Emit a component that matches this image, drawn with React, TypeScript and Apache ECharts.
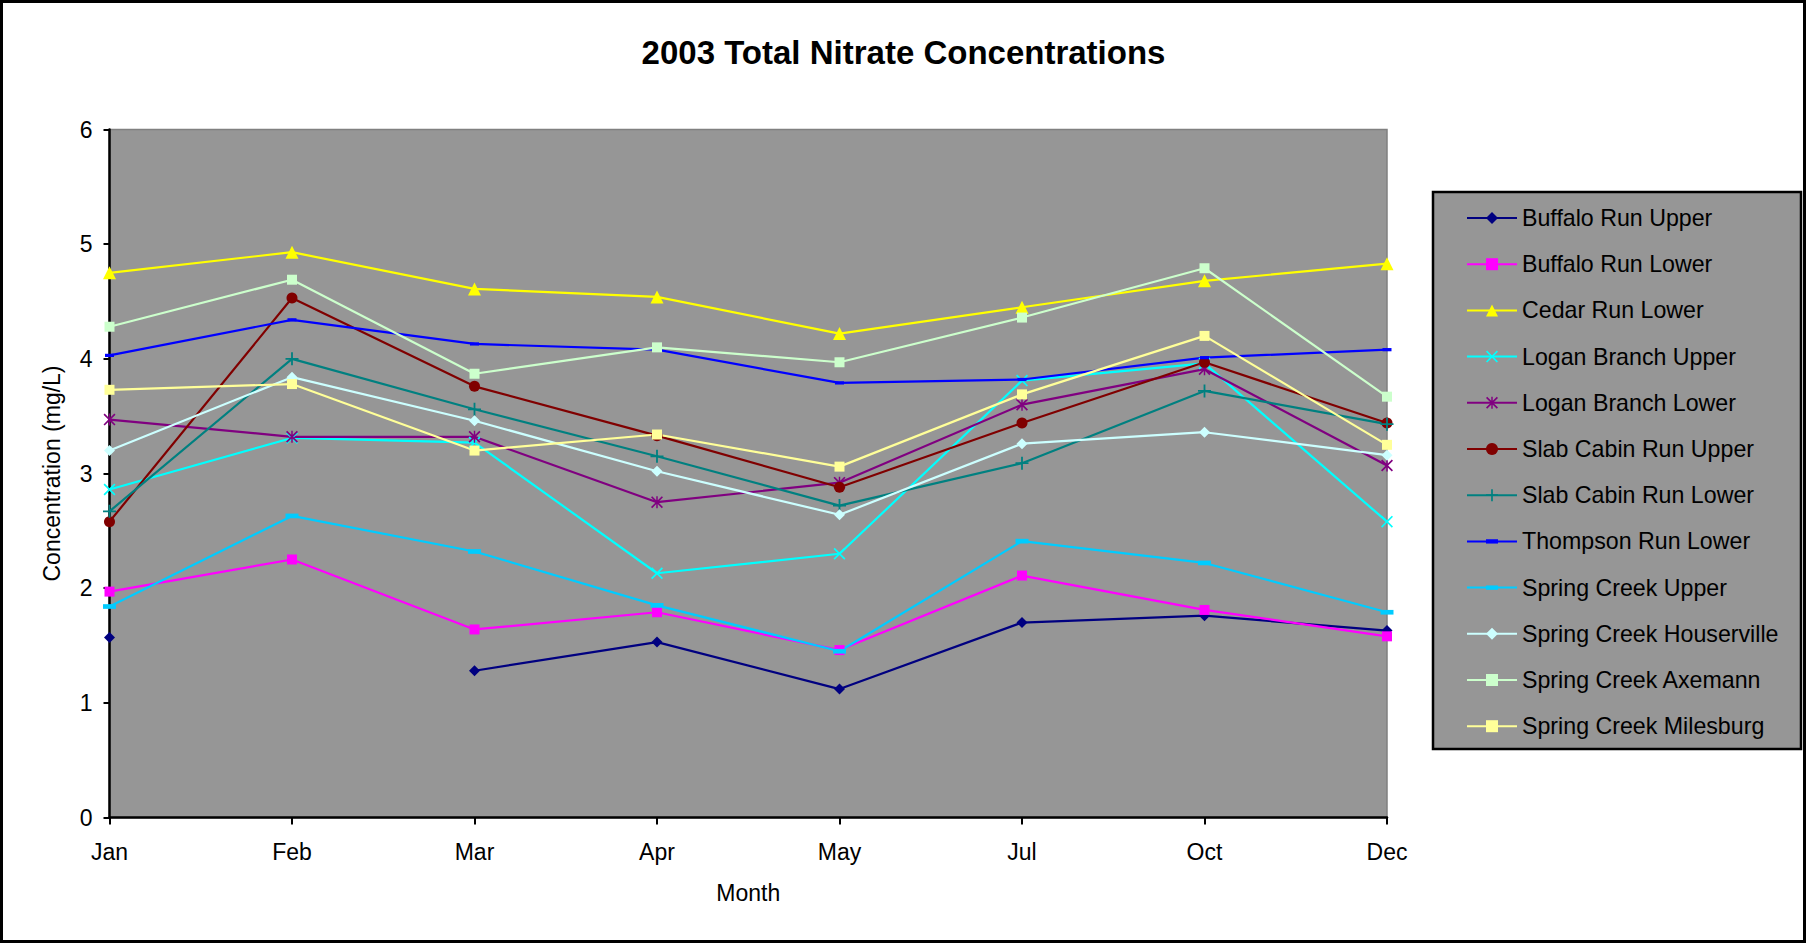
import React, { useEffect, useRef } from 'react';
import * as echarts from 'echarts';

const months = ['Jan', 'Feb', 'Mar', 'Apr', 'May', 'Jul', 'Oct', 'Dec'];

const seriesNames = [
  'Buffalo Run Upper',
  'Buffalo Run Lower',
  'Cedar Run Lower',
  'Logan Branch Upper',
  'Logan Branch Lower',
  'Slab Cabin Run Upper',
  'Slab Cabin Run Lower',
  'Thompson Run Lower',
  'Spring Creek Upper',
  'Spring Creek Houserville',
  'Spring Creek Axemann',
  'Spring Creek Milesburg',
];

const buffaloRunUpper = [1.57, null, 1.28, 1.53, 1.12, 1.7, 1.76, 1.63];
const buffaloRunLower = [1.97, 2.25, 1.64, 1.79, 1.46, 2.11, 1.81, 1.58];
const cedarRunLower = [4.75, 4.93, 4.61, 4.54, 4.22, 4.45, 4.68, 4.83];
const loganBranchUpper = [2.86, 3.31, 3.27, 2.13, 2.3, 3.81, 3.96, 2.58];
const loganBranchLower = [3.47, 3.32, 3.32, 2.75, 2.92, 3.6, 3.91, 3.07];
const slabCabinRunUpper = [2.58, 4.53, 3.76, 3.33, 2.88, 3.44, 3.97, 3.44];
const slabCabinRunLower = [2.67, 4.0, 3.56, 3.15, 2.72, 3.09, 3.72, 3.43];
const thompsonRunLower = [4.03, 4.34, 4.13, 4.08, 3.79, 3.82, 4.01, 4.08];
const springCreekUpper = [1.84, 2.63, 2.32, 1.85, 1.45, 2.41, 2.22, 1.79];
const springCreekHouserville = [3.2, 3.84, 3.46, 3.02, 2.64, 3.26, 3.36, 3.16];
const springCreekAxemann = [4.28, 4.69, 3.87, 4.1, 3.97, 4.36, 4.79, 3.67];
const springCreekMilesburg = [3.73, 3.78, 3.2, 3.34, 3.06, 3.69, 4.2, 3.25];

const seriesValues = [
  buffaloRunUpper,
  buffaloRunLower,
  cedarRunLower,
  loganBranchUpper,
  loganBranchLower,
  slabCabinRunUpper,
  slabCabinRunLower,
  thompsonRunLower,
  springCreekUpper,
  springCreekHouserville,
  springCreekAxemann,
  springCreekMilesburg,
];

const X_PATH = 'M0,1L1,0L5,4L9,0L10,1L6,5L10,9L9,10L5,6L1,10L0,9L4,5Z';
const SYM_X = 'path://' + X_PATH;
const SYM_STAR = 'path://' + X_PATH + 'M4.4,0L5.6,0L5.6,10L4.4,10Z';
const SYM_PLUS =
  'path://M4.3,0L5.7,0L5.7,4.3L10,4.3L10,5.7L5.7,5.7L5.7,10L4.3,10L4.3,5.7L0,5.7L0,4.3L4.3,4.3Z';
const SYM_DASH = 'path://M0,0M10,10M0,3.2L10,3.2L10,6.8L0,6.8Z';

const seriesColors = [
  '#000080',
  '#FF00FF',
  '#FFFF00',
  '#00FFFF',
  '#800080',
  '#800000',
  '#008080',
  '#0000FF',
  '#00CCFF',
  '#CCFFFF',
  '#CCFFCC',
  '#FFFF99',
];
const seriesSymbols = [
  'diamond',
  'rect',
  'triangle',
  SYM_X,
  SYM_STAR,
  'circle',
  SYM_PLUS,
  SYM_DASH,
  SYM_DASH,
  'diamond',
  'rect',
  'rect',
];
const seriesSymbolSizes = [11, 10, 13, 12, 12, 11, 13, 9, 13, 11, 10, 10];

const FONT = 'Arial, "Liberation Sans", Helvetica, sans-serif';

export default function App() {
  const ref = useRef<HTMLDivElement>(null);

  useEffect(() => {
    const chart = echarts.init(ref.current as HTMLDivElement, null, { renderer: 'svg' });
    chart.setOption({
      animation: false,
      backgroundColor: '#ffffff',
      textStyle: { fontFamily: FONT },
      title: {
        text: '2003 Total Nitrate Concentrations',
        left: 'center',
        top: 31,
        textStyle: { fontSize: 33, fontWeight: 'bold', color: '#000', fontFamily: FONT },
      },
      graphic: [
        {
          type: 'rect',
          z: 0,
          shape: { x: 1.5, y: 1.5, width: 1803, height: 940 },
          style: { fill: 'none', stroke: '#000', lineWidth: 3 },
        },
        {
          type: 'rect',
          z: 0,
          shape: { x: 1433, y: 192, width: 368, height: 557 },
          style: { fill: '#969696', stroke: '#000', lineWidth: 2.5 },
        },
      ],
      legend: {
        orient: 'vertical',
        left: 1466,
        top: 204,
        padding: 0,
        itemWidth: 50,
        itemHeight: 15,
        itemGap: 18.2,
        selectedMode: false,
        z: 5,
        textStyle: { fontSize: 23.2, color: '#000', fontFamily: FONT, lineHeight: 28 },
        data: seriesNames,
      },
      grid: {
        left: 109.5,
        top: 129.5,
        right: 420,
        bottom: 125.5,
        show: true,
        backgroundColor: '#969696',
        borderColor: '#808080',
        borderWidth: 1.5,
      },
      xAxis: {
        type: 'category',
        data: months,
        boundaryGap: false,
        name: 'Month',
        nameLocation: 'middle',
        nameGap: 64,
        nameTextStyle: { fontSize: 23, color: '#000', fontFamily: FONT },
        axisLine: { show: true, lineStyle: { color: '#000', width: 2.5 } },
        axisTick: { show: true, length: 7, lineStyle: { color: '#000', width: 2 } },
        axisLabel: { fontSize: 23, color: '#000', margin: 23, fontFamily: FONT },
        splitLine: { show: false },
      },
      yAxis: {
        type: 'value',
        min: 0,
        max: 6,
        interval: 1,
        name: 'Concentration (mg/L)',
        nameLocation: 'middle',
        nameGap: 46,
        nameTextStyle: { fontSize: 23, color: '#000', fontFamily: FONT },
        axisLine: { show: true, lineStyle: { color: '#000', width: 2.5 } },
        axisTick: { show: true, length: 6, lineStyle: { color: '#000', width: 2 } },
        axisLabel: { fontSize: 23, color: '#000', margin: 17, fontFamily: FONT },
        splitLine: { show: false },
      },
      series: seriesNames.map((name, i) => ({
        name,
        type: 'line',
        data: seriesValues[i],
        color: seriesColors[i],
        symbol: seriesSymbols[i],
        symbolSize: seriesSymbolSizes[i],
        showSymbol: true,
        connectNulls: false,
        smooth: false,
        lineStyle: { width: 2.2, color: seriesColors[i] },
        itemStyle: { color: seriesColors[i] },
        emphasis: { disabled: true },
      })),
    });
    return () => chart.dispose();
  }, []);

  return (
    <div
      ref={ref}
      style={{ position: 'fixed', left: 0, top: 0, width: 1807, height: 943, background: '#fff' }}
    />
  );
}
